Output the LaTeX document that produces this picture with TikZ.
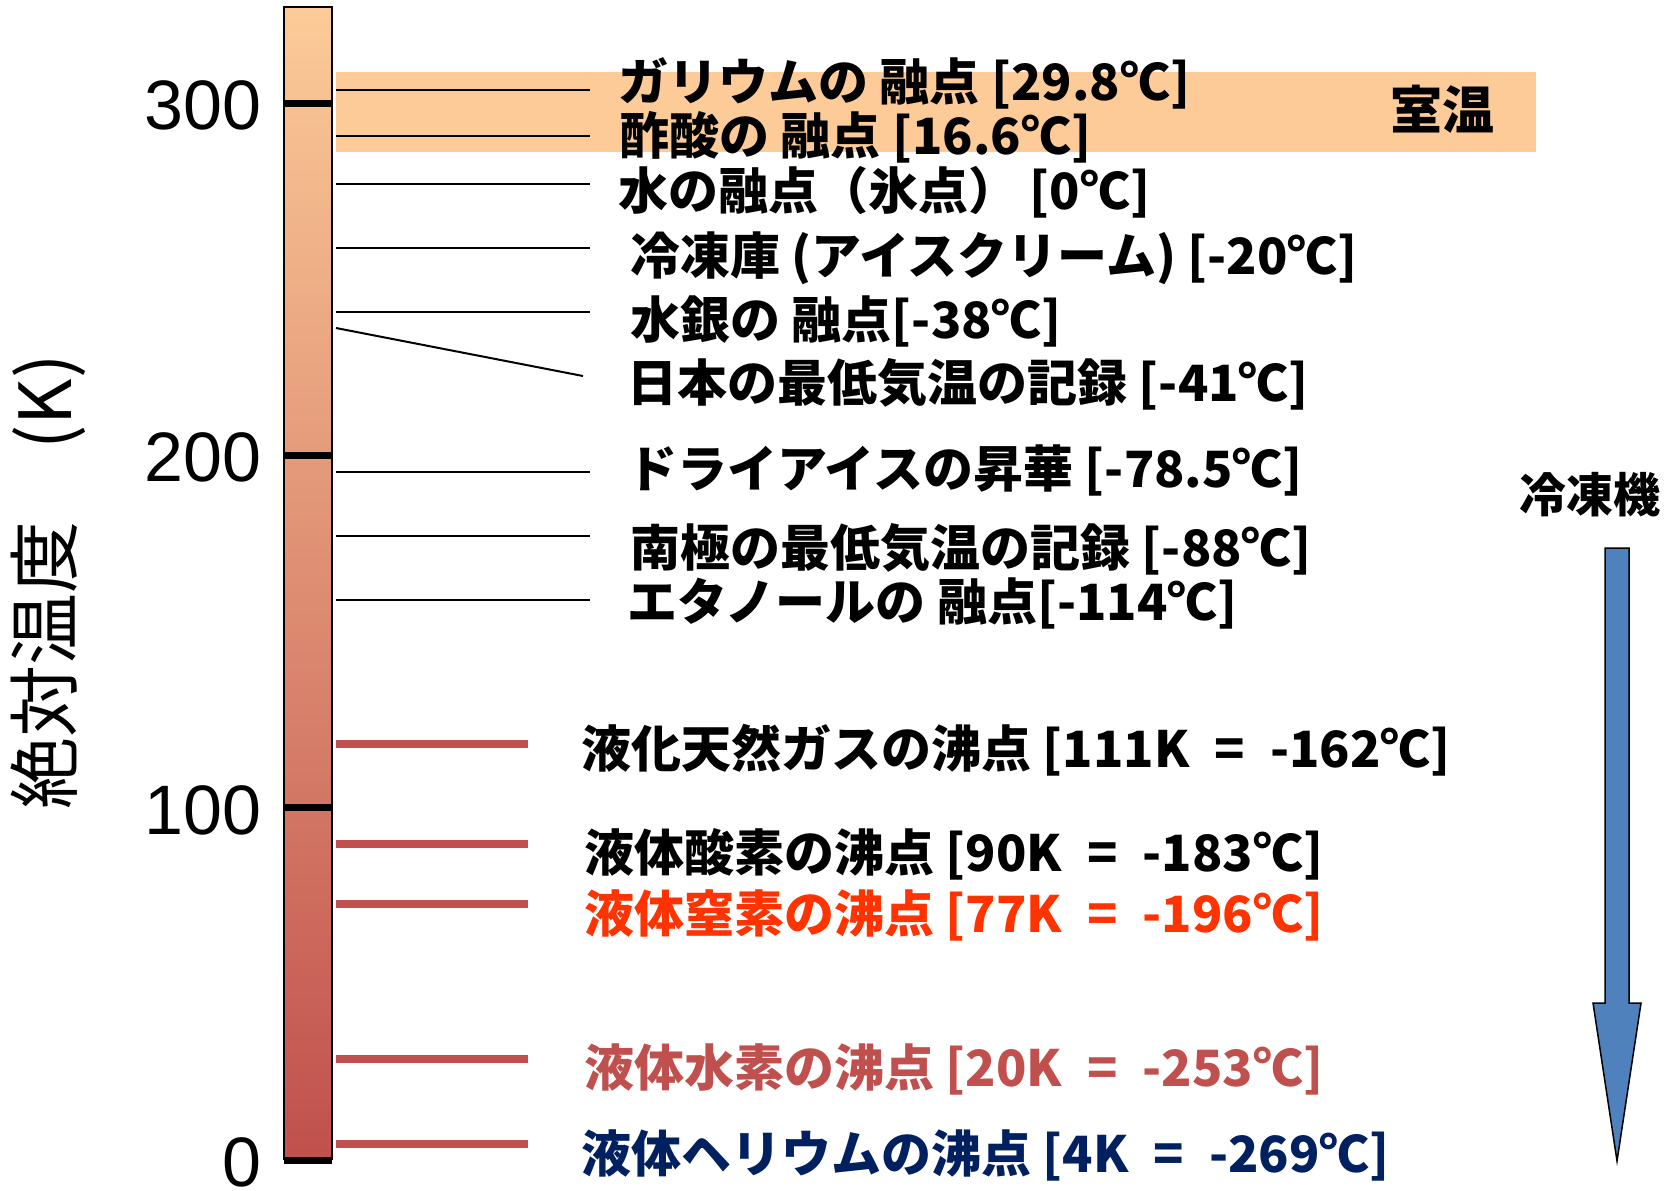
\documentclass[tikz,border=0pt]{standalone}
\usepackage{fontspec}
\setmainfont{Liberation Sans}
\newfontfamily\jp{Noto Sans CJK JP}
\usepackage{tikz}

\definecolor{peach}{HTML}{FCCB98}
\definecolor{barred}{HTML}{C0504D}
\definecolor{nitro}{HTML}{FF3300}
\definecolor{helium}{HTML}{002060}
\definecolor{fridge}{HTML}{4F81BD}

\begin{document}
\begin{tikzpicture}[x=0.5pt, y=-0.5pt,
  lbl/.style={anchor=west, inner sep=0pt, font=\jp\bfseries\fontsize{25}{25}\selectfont},
  thinline/.style={line width=1pt},
  boilline/.style={line width=4pt, barred},
  tickline/.style={line width=3.5pt}]

\useasboundingbox (0,0) rectangle (1679,1190);

% room temperature band
\fill[peach] (336,72) rectangle (1536,152);
\node[font=\jp\bfseries\fontsize{26}{26}\selectfont] (room) at (1442,109) {室温};

% the kelvin scale
\shade[top color=peach, bottom color=barred] (284,7) rectangle (332,1160);
\draw[line width=1pt] (284,1160) -- (284,7) -- (332,7) -- (332,1160);
\foreach \t in {0,100,200,300} {
  \draw[tickline] (284,1160-3.521*\t) -- (332,1160-3.521*\t);
  \node[anchor=east, inner sep=0pt, font=\fontsize{35}{35}\selectfont] (k\t) at (262,1162-3.521*\t) {\t};
}
\node[rotate=90, inner sep=0pt, font=\jp\fontsize{36}{36}\selectfont] (axis) at (48,582) {絶対温度　(K)};

% melting points etc.
\foreach \y in {90,136,184,248,312,472,536,600}
  \draw[thinline] (336,\y) -- (590,\y);
\draw[thinline] (336,328) -- (583,376);

\node[lbl] (ga) at (618,83) {ガリウムの 融点 [29.8℃]};
\node[lbl] (acetic) at (619,137) {酢酸の 融点 [16.6℃]};
\node[lbl] (water) at (618,192) {水の融点（氷点） [0℃]};
\node[lbl] (freezer) at (630,258) {冷凍庫 (アイスクリーム) [-20℃]};
\node[lbl] (hg) at (630,321) {水銀の 融点[-38℃]};
\node[lbl] (japan) at (627,384) {日本の最低気温の記録 [-41℃]};
\node[lbl] (dryice) at (627,470) {ドライアイスの昇華 [-78.5℃]};
\node[lbl] (south) at (630,549) {南極の最低気温の記録 [-88℃]};
\node[lbl] (ethanol) at (627,603) {エタノールの 融点[-114℃]};

% boiling points
\foreach \y in {744,844,904,1059,1144}
  \draw[boilline] (336,\y) -- (528,\y);

\node[lbl] (lng) at (581,750) {液化天然ガスの沸点 [111K\enspace=\enspace-162℃]};
\node[lbl] (oxy) at (584,854) {液体酸素の沸点 [90K\enspace=\enspace-183℃]};
\node[lbl, nitro] (nit) at (584,915) {液体窒素の沸点 [77K\enspace=\enspace-196℃]};
\node[lbl, barred] (hyd) at (584,1069) {液体水素の沸点 [20K\enspace=\enspace-253℃]};
\node[lbl, helium] (he) at (581,1155) {液体ヘリウムの沸点 [4K\enspace=\enspace-269℃]};

% refrigerator arrow
\node[font=\jp\bfseries\fontsize{23.5}{23.5}\selectfont] (cool) at (1590,495) {冷凍機};
\filldraw[fill=fridge, draw=black, line width=0.75pt] (1605,548) -- (1629,548) -- (1629,1003)
  -- (1641,1003) -- (1617,1161) -- (1593,1003) -- (1605,1003) -- cycle;

\end{tikzpicture}
\end{document}
